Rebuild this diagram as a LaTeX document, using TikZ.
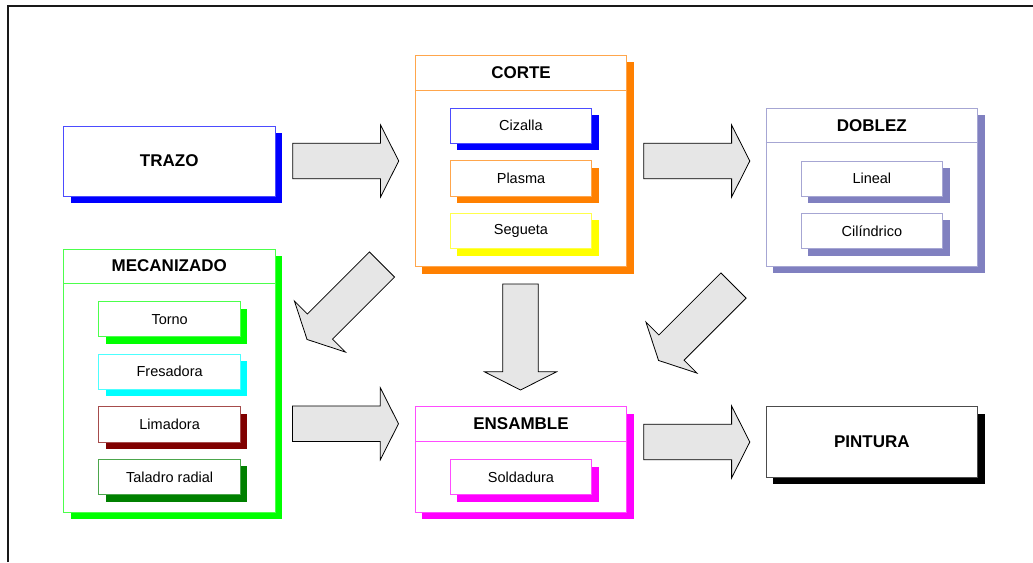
\documentclass[tikz,border=0pt]{standalone}
\usepackage{fontspec}
\setmainfont{Liberation Sans}
\usetikzlibrary{shadows,calc}

\definecolor{arrowgray}{RGB}{230,230,230}
\definecolor{blueshade}{RGB}{0,0,255}
\definecolor{greenshade}{RGB}{0,255,0}
\definecolor{yellowshade}{RGB}{255,255,0}
\definecolor{cyanshade}{RGB}{0,255,255}
\definecolor{magentashade}{RGB}{255,0,255}
\definecolor{blackshade}{RGB}{0,0,0}
\definecolor{doblezpurple}{RGB}{128,128,192}
\definecolor{orangeshade}{RGB}{255,128,0}
\definecolor{maroonshade}{RGB}{128,0,0}
\definecolor{darkgreenshade}{RGB}{0,128,0}

\tikzset{
  box/.style={rectangle, draw=#1!70!white, line width=0.9pt, fill=white, inner sep=0pt,
    drop shadow={shadow xshift=7pt, shadow yshift=-7pt, fill=#1, opacity=1}},
  groupbox/.style={box=#1, minimum width=211.5pt},
  subbox/.style={box=#1, minimum width=141.5pt, minimum height=35.3pt,
    font=\fontsize{14.5}{17}\selectfont},
  titletext/.style={font=\bfseries\fontsize{17}{20}\selectfont, inner sep=0pt},
  sepline/.style={draw=#1!70!white, line width=0.9pt},
  arrowshape/.style={fill=arrowgray, draw=black, line width=0.8pt, line join=miter},
  pics/blockarrow/.style={code={
    \draw[arrowshape] (0,-17.8) -- (87.8,-17.8) -- (87.8,-36) -- (106,0)
      -- (87.8,36) -- (87.8,17.8) -- (0,17.8) -- cycle;}}
}

\begin{document}
\begin{tikzpicture}[x=1pt, y=-1pt]
\useasboundingbox (0,0) rectangle (1033,562);

% outer frame (top and left edges)
\draw[line width=2pt, black!90] (7.7,562) -- (7.7,6.2) -- (1033,6.2);

% TRAZO
\node[groupbox=blueshade, minimum height=70pt, titletext] (trazo) at (169.25,161) {TRAZO};

% CORTE
\node[groupbox=orangeshade, minimum height=211.4pt] (corte) at (521,161) {};
\draw[sepline=orangeshade] ([yshift=-35.4pt]corte.north west) -- ([yshift=-35.4pt]corte.north east);
\node[titletext] (corte-title) at ($(corte.north)+(0,17.7)$) {CORTE};
\node[subbox=blueshade] (cizalla) at (521,125.8) {Cizalla};
\node[subbox=orangeshade] (plasma) at (521,178.4) {Plasma};
\node[subbox=yellowshade] (segueta) at (521,231.1) {Segueta};

% DOBLEZ
\node[groupbox=doblezpurple, minimum height=158pt] (doblez) at (871.85,187) {};
\draw[sepline=doblezpurple] ([yshift=-35.3pt]doblez.north west) -- ([yshift=-35.3pt]doblez.north east);
\node[titletext] (doblez-title) at ($(doblez.north)+(0,17.7)$) {DOBLEZ};
\node[subbox=doblezpurple] (lineal) at (871.85,178.7) {Lineal};
\node[subbox=doblezpurple] (cilindrico) at (871.85,231.1) {Cilíndrico};

% MECANIZADO
\node[groupbox=greenshade, minimum height=263.3pt] (mecanizado) at (169.3,380.65) {};
\draw[sepline=greenshade] ([yshift=-34.7pt]mecanizado.north west) -- ([yshift=-34.7pt]mecanizado.north east);
\node[titletext] (mecanizado-title) at ($(mecanizado.north)+(0,17.4)$) {MECANIZADO};
\node[subbox=greenshade] (torno) at (169.65,319.2) {Torno};
\node[subbox=cyanshade] (fresadora) at (169.65,371.8) {Fresadora};
\node[subbox=maroonshade] (limadora) at (169.65,424.35) {Limadora};
\node[subbox=darkgreenshade] (taladro) at (169.65,477) {Taladro radial};

% ENSAMBLE
\node[groupbox=magentashade, minimum height=105.6pt] (ensamble) at (521,459.5) {};
\draw[sepline=magentashade] ([yshift=-35pt]ensamble.north west) -- ([yshift=-35pt]ensamble.north east);
\node[titletext] (ensamble-title) at ($(ensamble.north)+(0,17.5)$) {ENSAMBLE};
\node[subbox=magentashade] (soldadura) at (521,477.15) {Soldadura};

% PINTURA
\node[groupbox=blackshade, minimum height=70.6pt, titletext] (pintura) at (871.85,442) {PINTURA};

% block arrows between the stages (tail points)
\coordinate (trazo-corte) at ($(trazo.east)+(17.3,0)$);
\coordinate (corte-doblez) at ($(corte.east)+(16.6,0)$);
\coordinate (mec-ens) at ($(mecanizado.east |- ensamble-title)+(17,0)$);
\coordinate (ens-pint) at ($(ensamble.east |- pintura)+(16.6,0)$);
\coordinate (corte-ens) at (520.5,284);
\coordinate (corte-mec) at (382,264.5);
\coordinate (doblez-ens) at (733.5,285.5);

\pic at (trazo-corte) {blockarrow};
\pic at (corte-doblez) {blockarrow};
\pic at (mec-ens) {blockarrow};
\pic at (ens-pint) {blockarrow};
\pic[rotate=-90] at (corte-ens) {blockarrow};
\pic[rotate=-135] at (corte-mec) {blockarrow};
\pic[rotate=-135] at (doblez-ens) {blockarrow};
\end{tikzpicture}
\end{document}
